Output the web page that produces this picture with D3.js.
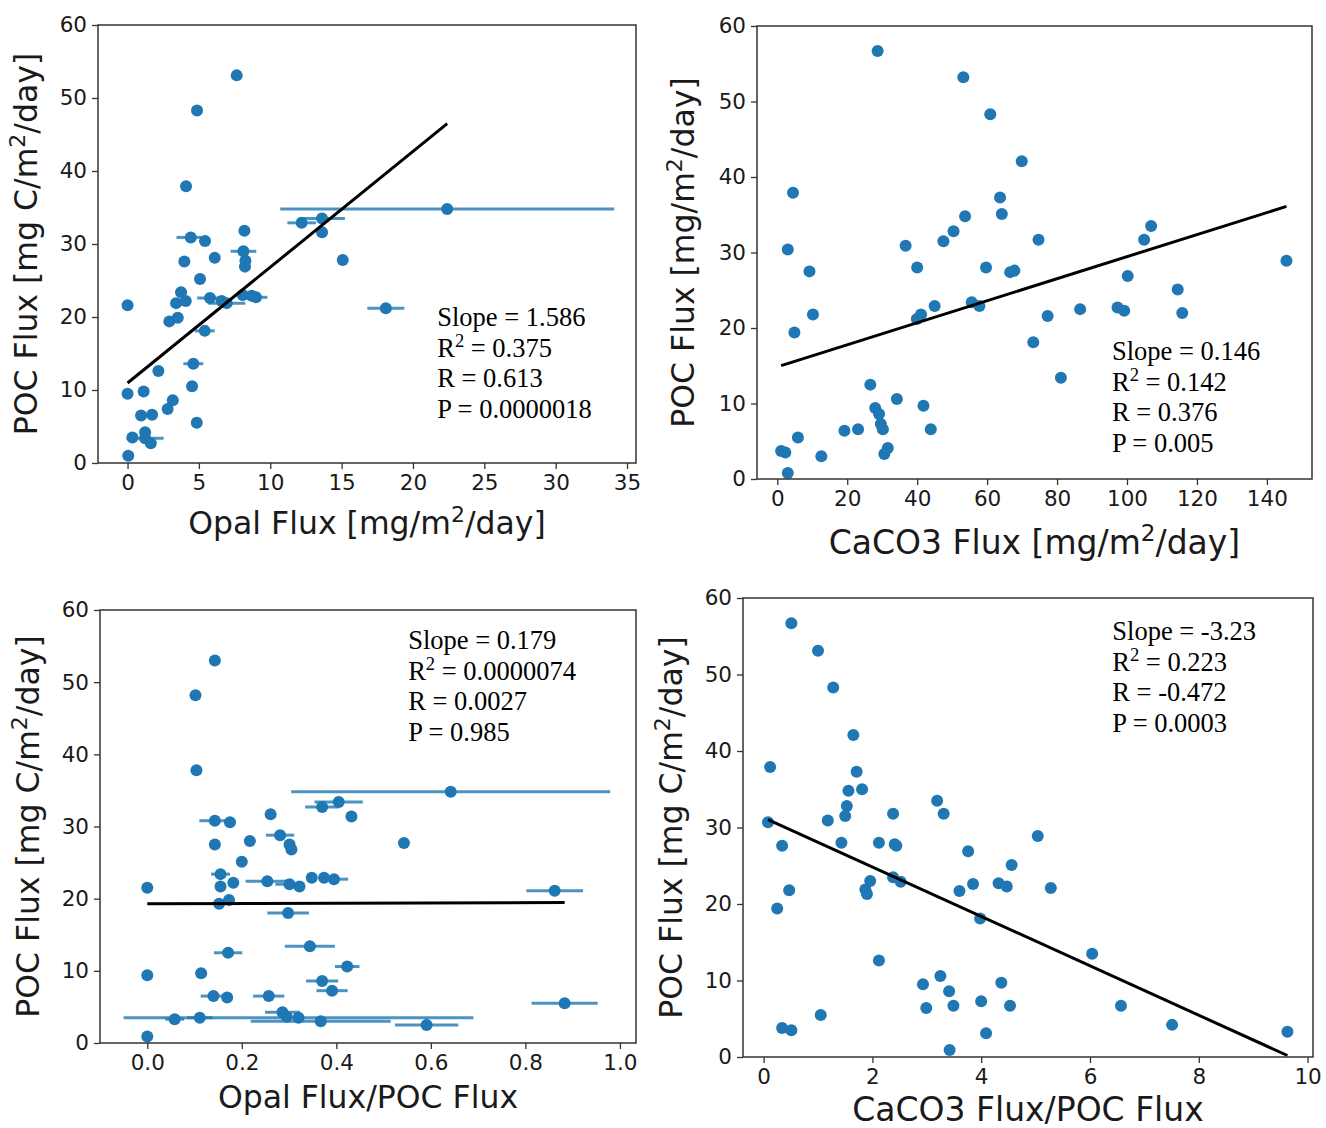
<!DOCTYPE html>
<html>
<head>
<meta charset="utf-8">
<script src="https://cdn.jsdelivr.net/npm/d3@7"></script>
<style>
  body { margin: 0; background: #fff; }
  svg { display: block; }
</style>
</head>
<body>
<svg id="chart" width="1326" height="1128"></svg>
<script>
// ---- Panel A: POC flux against opal flux ----
const opalFlux = [7.65, 4.87, 4.1, 0.0, 0.0, 0.05, 4.43, 5.43, 8.19, 3.98, 6.11, 8.12, 8.26, 8.23, 5.08, 3.75, 3.40, 4.08, 2.93, 3.52,
  5.78, 6.6, 6.95, 8.07, 8.7, 9.0, 5.41, 2.16, 4.61, 4.52, 1.13, 3.17, 2.81, 0.95, 1.72, 4.85, 0.34, 1.23, 1.23, 1.63,
  22.4, 12.2, 13.63, 13.63, 15.08, 18.1];
const opalFluxErr = [0, 0, 0, 0, 0, 0, 1.0, 0, 0, 0, 0, 0.9, 0, 0.4, 0, 0.4, 0, 0, 0, 0,
  0.9, 0, 1.3, 0, 0, 0.8, 0.7, 0, 0.7, 0, 0, 0, 0, 0, 0, 0, 0, 0, 1.3, 0,
  11.7, 1.0, 1.6, 0, 0, 1.3];
const pocVsOpal = [53.1, 48.3, 37.9, 21.6, 9.5, 1.0, 30.9, 30.4, 31.8, 27.6, 28.1, 29.0, 27.7, 26.9, 25.2, 23.4, 21.9, 22.2, 19.4, 19.9,
  22.6, 22.2, 21.9, 23.0, 22.9, 22.7, 18.1, 12.6, 13.6, 10.5, 9.8, 8.6, 7.4, 6.5, 6.6, 5.5, 3.5, 4.2, 3.4, 2.7,
  34.8, 32.9, 33.5, 31.6, 27.8, 21.2];

// ---- Panel B: POC flux against CaCO3 flux ----
const caco3Flux = [28.7, 53.2, 60.9, 69.9, 4.5, 63.7, 64.2, 53.7, 106.9, 50.4, 74.7, 104.9, 47.5, 36.7, 3.0, 145.6, 40.0, 59.7,
  66.6, 67.8, 9.2, 100.2, 114.5, 55.6, 45.0, 57.8, 97.3, 86.6, 99.2, 115.8, 10.2, 41.1, 39.9, 77.3, 4.9, 73.2, 81.1,
  26.6, 34.2, 41.8, 28.0, 29.1, 29.6, 30.2, 43.9, 23.1, 19.2, 5.9, 31.6, 1.1, 2.3, 30.6, 12.6, 3.0];
const pocVsCaco3 = [56.7, 53.2, 48.3, 42.1, 37.9, 37.3, 35.1, 34.8, 33.5, 32.8, 31.7, 31.7, 31.5, 30.9, 30.4, 28.9, 28.0, 28.0,
  27.4, 27.6, 27.5, 26.9, 25.1, 23.4, 22.9, 22.9, 22.7, 22.5, 22.3, 22.0, 21.8, 21.8, 21.2, 21.6, 19.4, 18.1, 13.4,
  12.5, 10.6, 9.7, 9.4, 8.6, 7.3, 6.6, 6.6, 6.6, 6.4, 5.5, 4.1, 3.7, 3.5, 3.3, 3.0, 0.8];

// ---- Panel C: POC flux against opal/POC ratio ----
const opalPocRatio = [0.143, 0.102, 0.104, 0.0, 0.0, 0.0, 0.143, 0.175, 0.143, 0.217, 0.261, 0.281, 0.301, 0.305, 0.2, 0.155,
  0.155, 0.182, 0.152, 0.173, 0.254, 0.301, 0.322, 0.348, 0.374, 0.395, 0.298, 0.344, 0.171, 0.114, 0.14, 0.169,
  0.257, 0.058, 0.111, 0.32, 0.367, 0.286, 0.295, 0.591, 0.642, 0.405, 0.37, 0.432, 0.543, 0.423, 0.37, 0.391,
  0.862, 0.883];
const opalPocRatioErr = [0, 0, 0, 0, 0, 0, 0.033, 0.012, 0, 0.012, 0, 0.03, 0.01, 0, 0, 0.02,
  0, 0.01, 0, 0.01, 0.046, 0.03, 0, 0, 0, 0.03, 0.044, 0.053, 0.03, 0, 0.027, 0,
  0.033, 0.02, 0.027, 0.37, 0.148, 0.037, 0, 0.067, 0.3375, 0.051, 0.036, 0, 0.008, 0.026, 0.034, 0.033,
  0.06, 0.07];
const pocVsOpalRatio = [53.0, 48.2, 37.8, 21.5, 9.4, 0.9, 30.8, 30.6, 27.5, 28.0, 31.7, 28.8, 27.5, 26.8, 25.1, 23.4,
  21.7, 22.2, 19.3, 19.8, 22.4, 22.0, 21.7, 22.9, 22.9, 22.7, 18.0, 13.4, 12.5, 9.65, 6.5, 6.3,
  6.5, 3.3, 3.5, 3.5, 3.0, 4.25, 3.65, 2.5, 34.8, 33.4, 32.7, 31.4, 27.7, 10.6, 8.6, 7.25,
  21.1, 5.5];

// ---- Panel D: POC flux against CaCO3/POC ratio ----
const caco3PocRatio = [0.51, 1.0, 1.28, 1.65, 0.12, 1.71, 1.81, 1.56, 1.53, 1.50, 1.18, 0.08, 0.34, 1.43, 2.12, 2.38, 2.41, 2.44,
  3.19, 3.31, 3.76, 1.96, 1.87, 1.90, 2.38, 2.52, 3.6, 3.85, 3.98, 0.47, 0.25, 2.12, 3.25, 2.93, 3.41, 2.99, 3.49,
  4.0, 1.05, 0.34, 0.51, 3.42, 5.04, 4.56, 4.32, 4.47, 5.28, 6.04, 4.37, 4.53, 6.57, 7.51, 9.63, 4.09];
const pocVsCaco3Ratio = [56.7, 53.1, 48.3, 42.1, 37.9, 37.3, 35.0, 34.8, 32.8, 31.5, 30.9, 30.7, 27.6, 28.0, 28.0, 31.8, 27.8, 27.6,
  33.5, 31.8, 26.9, 23.0, 21.9, 21.3, 23.5, 22.9, 21.7, 22.6, 18.1, 21.8, 19.4, 12.6, 10.6, 9.5, 8.6, 6.4, 6.7,
  7.3, 5.5, 3.8, 3.5, 0.9, 28.9, 25.1, 22.7, 22.3, 22.1, 13.5, 9.7, 6.7, 6.7, 4.2, 3.3, 3.1];

// ---- Linear fits and their statistics ----
const fitSlopes = [1.586, 0.146, 0.179, -3.23];
const fitIntercepts = [10.96, 14.85, 19.3, 31.3];
const fitStats = [
  ["Slope = 1.586", "R^2 = 0.375", "R = 0.613", "P = 0.0000018"],
  ["Slope = 0.146", "R^2 = 0.142", "R = 0.376", "P = 0.005"],
  ["Slope = 0.179", "R^2 = 0.0000074", "R = 0.0027", "P = 0.985"],
  ["Slope = -3.23", "R^2 = 0.223", "R = -0.472", "P = 0.0003"]
];

// ---- Tick values and axis titles ----
const pocTicks = [0, 10, 20, 30, 40, 50, 60];
const opalTicks = [0, 5, 10, 15, 20, 25, 30, 35];
const caco3Ticks = [0, 20, 40, 60, 80, 100, 120, 140];
const opalRatioTicks = [0.0, 0.2, 0.4, 0.6, 0.8, 1.0];
const caco3RatioTicks = [0, 2, 4, 6, 8, 10];
const xTitles = ["Opal Flux [mg/m^2/day]", "CaCO3 Flux [mg/m^2/day]", "Opal Flux/POC Flux", "CaCO3 Flux/POC Flux"];
const yTitles = ["POC Flux [mg C/m^2/day]", "POC Flux [mg/m^2/day]", "POC Flux [mg C/m^2/day]", "POC Flux [mg C/m^2/day]"];

// ---- Layout ----
const BLUE = "#1f77b4";
const ERR = "rgba(31,119,180,0.8)";
const SANS = "'DejaVu Sans', sans-serif";
const SERIF = "'Liberation Serif', 'Times New Roman', serif";
const TICK_FS = 21.5, TITLE_FS = 31.5, STAT_FS = 26.5, STAT_LH = 30.6;

const panels = [
  { box: { x0: 98, x1: 636, y0: 25, y1: 463 }, xDomain: [-2.07, 35.63], ticks: opalTicks, fmt: d3.format("d"),
    xs: opalFlux, errs: opalFluxErr, ys: pocVsOpal, xTitleY: 534, xTitleFs: 31.5, yTitleX: 37, stat: [21.7, 18.77] },
  { box: { x0: 757, x1: 1312, y0: 26, y1: 479 }, xDomain: [-5.8, 152.9], ticks: caco3Ticks, fmt: d3.format("d"),
    xs: caco3Flux, errs: null, ys: pocVsCaco3, xTitleY: 554, xTitleFs: 33, yTitleX: 694, stat: [95.7, 15.76] },
  { box: { x0: 100, x1: 636, y0: 610, y1: 1043 }, xDomain: [-0.1, 1.034], ticks: opalRatioTicks, fmt: d3.format(".1f"),
    xs: opalPocRatio, errs: opalPocRatioErr, ys: pocVsOpalRatio, xTitleY: 1108, xTitleFs: 31.5, yTitleX: 39, stat: [0.552, 54.6] },
  { box: { x0: 743, x1: 1313, y0: 598, y1: 1057 }, xDomain: [-0.379, 10.1], ticks: caco3RatioTicks, fmt: d3.format("d"),
    xs: caco3PocRatio, errs: null, ys: pocVsCaco3Ratio, xTitleY: 1121, xTitleFs: 33, yTitleX: 682, stat: [6.41, 54.5] }
];

const svg = d3.select("#chart");

// Writes a string into a <text>, turning "^2" into a raised small "2".
function richText(textSel, str, fs) {
  const raise = fs * 0.38;
  const parts = str.split("^2");
  parts.forEach((part, i) => {
    const t = textSel.append("tspan").text(part);
    if (i > 0) t.attr("dy", raise);
    if (i < parts.length - 1) {
      textSel.append("tspan").attr("font-size", fs * 0.7).attr("dy", -raise).text("2");
    }
  });
}

panels.forEach((p, i) => {
  const { x0, x1, y0, y1 } = p.box;
  const x = d3.scaleLinear().domain(p.xDomain).range([x0, x1]);
  const y = d3.scaleLinear().domain([0, 60]).range([y1, y0]);
  const g = svg.append("g");

  // axes
  const gx = g.append("g").attr("transform", `translate(0,${y1})`)
    .call(d3.axisBottom(x).tickValues(p.ticks).tickFormat(p.fmt).tickSize(6).tickSizeOuter(0).tickPadding(6));
  const gy = g.append("g").attr("transform", `translate(${x0},0)`)
    .call(d3.axisLeft(y).tickValues(pocTicks).tickFormat(d3.format("d")).tickSize(6).tickSizeOuter(0).tickPadding(5));
  [gx, gy].forEach(a => {
    a.attr("font-size", TICK_FS).attr("font-family", SANS);
    a.select(".domain").remove();
    a.selectAll(".tick line").attr("stroke", "#333").attr("stroke-width", 1.3);
    a.selectAll(".tick text").attr("fill", "#1a1a1a");
  });

  // horizontal error bars
  if (p.errs) {
    g.append("g").selectAll("line")
      .data(p.xs.map((v, k) => ({ v, e: p.errs[k], py: p.ys[k] })).filter(d => d.e > 0))
      .join("line")
      .attr("x1", d => x(d.v - d.e)).attr("x2", d => x(d.v + d.e))
      .attr("y1", d => y(d.py)).attr("y2", d => y(d.py))
      .attr("stroke", ERR).attr("stroke-width", 3);
  }

  // scatter points
  g.append("g").selectAll("circle")
    .data(p.xs.map((v, k) => [v, p.ys[k]]))
    .join("circle")
    .attr("cx", d => x(d[0])).attr("cy", d => y(d[1])).attr("r", 6)
    .attr("fill", BLUE);

  // regression line over the data range
  const [xmin, xmax] = d3.extent(p.xs);
  const fit = v => fitSlopes[i] * v + fitIntercepts[i];
  g.append("line")
    .attr("x1", x(xmin)).attr("y1", y(fit(xmin)))
    .attr("x2", x(xmax)).attr("y2", y(fit(xmax)))
    .attr("stroke", "#000").attr("stroke-width", 3);

  // frame
  g.append("rect").attr("x", x0).attr("y", y0).attr("width", x1 - x0).attr("height", y1 - y0)
    .attr("fill", "none").attr("stroke", "#333").attr("stroke-width", 1.5);

  // fit statistics
  fitStats[i].forEach((line, k) => {
    const t = g.append("text")
      .attr("x", x(p.stat[0])).attr("y", y(p.stat[1]) + k * STAT_LH)
      .attr("font-family", SERIF).attr("font-size", STAT_FS).attr("fill", "#000");
    richText(t, line, STAT_FS);
  });

  // axis titles
  const xt = g.append("text")
    .attr("x", (x0 + x1) / 2).attr("y", p.xTitleY)
    .attr("text-anchor", "middle").attr("font-family", SANS).attr("font-size", p.xTitleFs).attr("fill", "#1a1a1a");
  richText(xt, xTitles[i], p.xTitleFs);

  const yt = g.append("text")
    .attr("transform", `translate(${p.yTitleX},${(y0 + y1) / 2}) rotate(-90)`)
    .attr("text-anchor", "middle").attr("font-family", SANS).attr("font-size", TITLE_FS).attr("fill", "#1a1a1a");
  richText(yt, yTitles[i], TITLE_FS);
});
</script>
</body>
</html>
